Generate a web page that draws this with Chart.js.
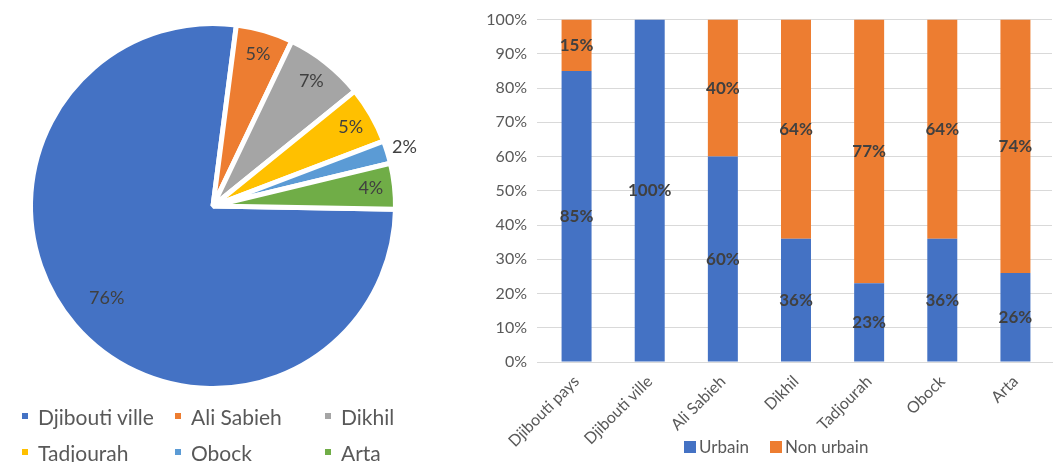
<!DOCTYPE html>
<html>
<head>
<meta charset="utf-8">
<script src="https://cdn.jsdelivr.net/npm/chart.js@4.4.1/dist/chart.umd.min.js"></script>
<style>
  body { margin: 0; background: #fff; width: 1054px; height: 462px; overflow: hidden; position: relative; font-family: Lato, sans-serif; }
  #pieWrap { position: absolute; left: 0; top: 0; }
  #barWrap { position: absolute; left: 440px; top: 0; }
  #pieLegend { position: absolute; left: 22px; top: 398px; display: grid; grid-template-columns: 153px 150px auto; grid-auto-rows: 36px; }
  #pieLegend .item { display: flex; align-items: center; font-size: 21px; color: #595959; white-space: nowrap; }
  #pieLegend .box { width: 6px; height: 6px; margin-right: 10px; }
  #barLegend { position: absolute; left: 684px; top: 435px; display: flex; }
  #barLegend .item { display: flex; align-items: center; font-size: 17px; color: #595959; white-space: nowrap; margin-right: 21px; line-height: 24px; }
  #barLegend .box { width: 12px; height: 12px; margin-right: 3px; }
</style>
</head>
<body>
<div id="pieWrap"><canvas id="pieChart" width="430" height="412"></canvas></div>
<div id="pieLegend"></div>
<div id="barWrap"><canvas id="barChart" width="614" height="462"></canvas></div>
<div id="barLegend"></div>
<script>
// population share by region (%)
const pieLabelsText = ['Djibouti ville', 'Ali Sabieh', 'Dikhil', 'Tadjourah', 'Obock', 'Arta'];
const pieValues = [76, 5, 7, 5, 2, 4];
const pieColors = ['#4472C4', '#ED7D31', '#A5A5A5', '#FFC000', '#5B9BD5', '#70AD47'];

// urban / non urban split (%)
const regions = ['Djibouti pays', 'Djibouti ville', 'Ali Sabieh', 'Dikhil', 'Tadjourah', 'Obock', 'Arta'];
const urbain = [85, 100, 60, 36, 23, 36, 26];
const nonUrbain = [15, 0, 40, 64, 77, 64, 74];

const pieValueLabels = {
  id: 'pieValueLabels',
  afterDatasetsDraw(chart) {
    const ctx = chart.ctx;
    const meta = chart.getDatasetMeta(0);
    ctx.save();
    ctx.font = '18px Lato';
    ctx.fillStyle = '#404040';
    ctx.textAlign = 'center';
    ctx.textBaseline = 'middle';
    meta.data.forEach((arc, i) => {
      const p = arc.getProps(['x', 'y', 'startAngle', 'endAngle', 'outerRadius'], true);
      const v = chart.data.datasets[0].data[i];
      const mid = (p.startAngle + p.endAngle) / 2;
      let r = p.outerRadius * (v > 50 ? 0.77 : 0.87);
      if (v < 3) r = p.outerRadius + 18; // too thin, put it outside
      ctx.fillText(v + '%', p.x + Math.cos(mid) * r, p.y + Math.sin(mid) * r);
    });
    ctx.restore();
  }
};

const barValueLabels = {
  id: 'barValueLabels',
  afterDatasetsDraw(chart) {
    const ctx = chart.ctx;
    ctx.save();
    ctx.font = 'bold 17px Lato';
    ctx.fillStyle = '#404040';
    ctx.textAlign = 'center';
    ctx.textBaseline = 'middle';
    chart.data.datasets.forEach((ds, di) => {
      chart.getDatasetMeta(di).data.forEach((bar, i) => {
        const v = ds.data[i];
        if (!v) return;
        const p = bar.getProps(['x', 'y', 'base'], true);
        ctx.fillText(v + '%', p.x, (p.y + p.base) / 2);
      });
    });
    ctx.restore();
  }
};

// square-marker legend built from a chart's colours
function buildLegend(el, labels, colors) {
  labels.forEach((label, i) => {
    const item = document.createElement('div');
    item.className = 'item';
    const box = document.createElement('span');
    box.className = 'box';
    box.style.background = colors[i];
    item.appendChild(box);
    item.appendChild(document.createTextNode(label));
    el.appendChild(item);
  });
}

const pieChart = new Chart(document.getElementById('pieChart'), {
  type: 'pie',
  data: {
    labels: pieLabelsText,
    datasets: [{
      data: pieValues,
      backgroundColor: pieColors,
      borderColor: '#fff',
      borderWidth: 5
    }]
  },
  options: {
    responsive: false,
    animation: false,
    rotation: 91,
    layout: { padding: { left: 28, right: 32, top: 21, bottom: 21 } },
    plugins: { legend: { display: false }, tooltip: { enabled: false } }
  },
  plugins: [pieValueLabels]
});
buildLegend(document.getElementById('pieLegend'), pieChart.data.labels, pieChart.data.datasets[0].backgroundColor);

const barChart = new Chart(document.getElementById('barChart'), {
  type: 'bar',
  data: {
    labels: regions,
    datasets: [
      { label: 'Urbain', data: urbain, backgroundColor: '#4472C4' },
      { label: 'Non urbain', data: nonUrbain, backgroundColor: '#ED7D31' }
    ]
  },
  options: {
    responsive: false,
    animation: false,
    layout: { padding: { top: 18, right: 2, bottom: 0 } },
    datasets: { bar: { barPercentage: 0.41, categoryPercentage: 1 } },
    scales: {
      x: {
        stacked: true,
        grid: { display: false },
        border: { color: '#d9d9d9' },
        ticks: { color: '#595959', font: { family: 'Lato', size: 16 }, minRotation: 45, maxRotation: 45, padding: 2 },
        afterFit: (s) => { s.height = 100; }
      },
      y: {
        stacked: true,
        min: 0,
        max: 100,
        grid: { color: '#d9d9d9', tickLength: 3 },
        border: { display: false },
        ticks: { stepSize: 10, callback: (v) => v + '%', color: '#595959', font: { family: 'Lato', size: 16 }, padding: 10 },
        afterFit: (s) => { s.width = 100; }
      }
    },
    plugins: { legend: { display: false }, tooltip: { enabled: false } }
  },
  plugins: [barValueLabels]
});
buildLegend(document.getElementById('barLegend'),
  barChart.data.datasets.map((d) => d.label),
  barChart.data.datasets.map((d) => d.backgroundColor));
</script>
</body>
</html>
